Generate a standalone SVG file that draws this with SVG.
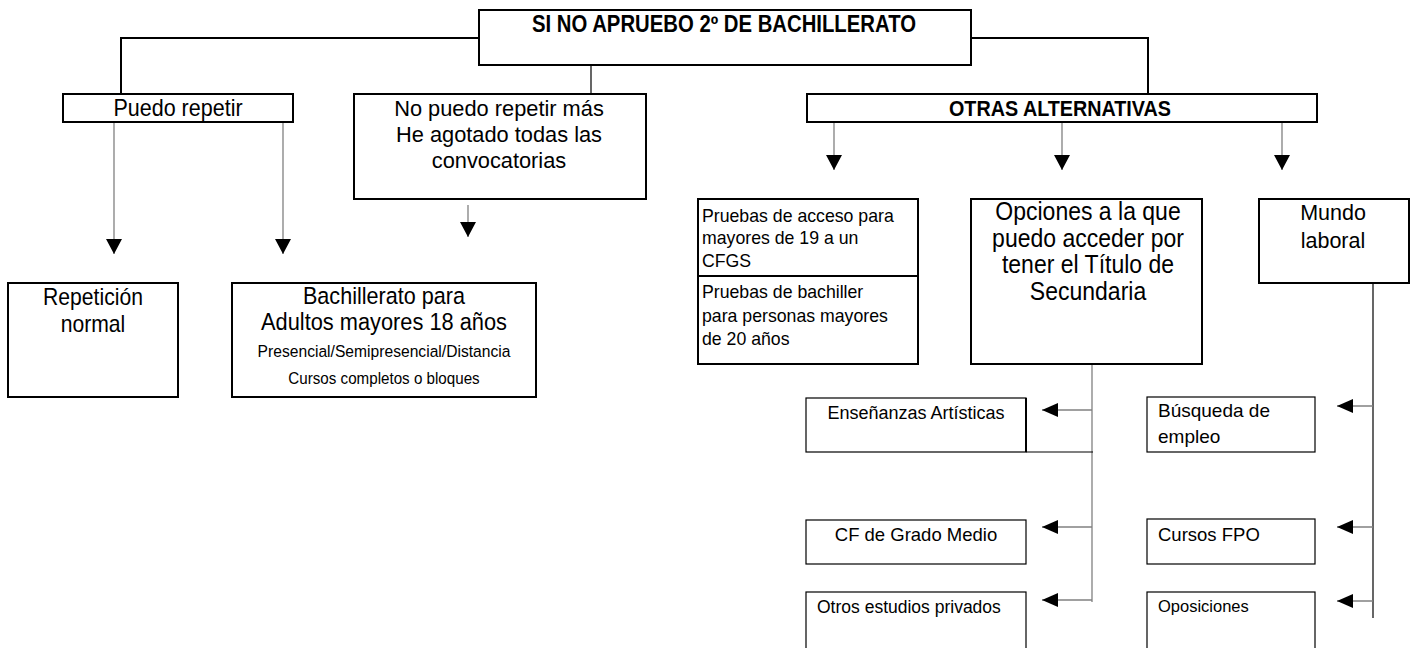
<svg xmlns="http://www.w3.org/2000/svg" width="1416" height="648" viewBox="0 0 1416 648">
<defs>
<style>
.box{fill:#fff;stroke:#000;stroke-width:2}
.thin{fill:#fff;stroke:#000;stroke-width:1.2}
.conn{fill:none;stroke:#000;stroke-width:2}
.blk{fill:none;stroke:#000;stroke-width:1.2}
.gray{fill:none;stroke:#808080;stroke-width:1.3}
text{font-family:"Liberation Sans",Arial,sans-serif;fill:#000}
.c{text-anchor:middle}
.h{font-weight:bold}
.sq{transform-box:fill-box;transform-origin:50% 50%;transform:scaleX(0.92)}
</style>
<marker id="ah" viewBox="0 0 15 16" refX="15" refY="8" markerWidth="15" markerHeight="16" markerUnits="userSpaceOnUse" orient="auto">
<path d="M0,0 L15,8 L0,16 Z" fill="#000"/>
</marker>
<marker id="ahs" viewBox="0 0 16 14" refX="16" refY="7" markerWidth="16" markerHeight="14" markerUnits="userSpaceOnUse" orient="auto">
<path d="M0,0 L16,7 L0,14 Z" fill="#000"/>
</marker>
</defs>
<rect width="1416" height="648" fill="#fff"/>
<g id="connectors">
<polyline class="conn" points="479,38 121,38 121,94"/>
<line class="blk" x1="591" y1="65" x2="591" y2="94"/>
<polyline class="conn" points="971,38 1148,38 1148,94"/>
<line class="gray" x1="114" y1="122" x2="114" y2="254" marker-end="url(#ah)"/>
<line class="gray" x1="283" y1="122" x2="283" y2="254" marker-end="url(#ah)"/>
<line class="gray" x1="468" y1="205" x2="468" y2="237" marker-end="url(#ah)"/>
<line class="gray" x1="834" y1="122" x2="834" y2="170" marker-end="url(#ah)"/>
<line class="gray" x1="1062" y1="122" x2="1062" y2="170" marker-end="url(#ah)"/>
<line class="gray" x1="1282" y1="122" x2="1282" y2="170" marker-end="url(#ah)"/>
<line class="gray" x1="1092" y1="352" x2="1092" y2="602"/>
<line class="gray" x1="1092" y1="410" x2="1042" y2="410" marker-end="url(#ahs)"/>
<line class="gray" x1="1092" y1="527" x2="1042" y2="527" marker-end="url(#ahs)"/>
<line class="gray" x1="1092" y1="600" x2="1042" y2="600" marker-end="url(#ahs)"/>
<line class="blk" x1="1373" y1="283" x2="1373" y2="618"/>
<line class="gray" x1="1373" y1="406" x2="1337" y2="406" marker-end="url(#ahs)"/>
<line class="gray" x1="1373" y1="527" x2="1337" y2="527" marker-end="url(#ahs)"/>
<line class="gray" x1="1373" y1="601" x2="1337" y2="601" marker-end="url(#ahs)"/>
</g>
<g id="n-title">
<rect class="box" x="479" y="10" width="492" height="55"/>
<text class="c h" x="724" y="32" font-size="23" textLength="384" lengthAdjust="spacingAndGlyphs">SI NO APRUEBO 2º DE BACHILLERATO</text>
</g>
<g id="n-puedo">
<rect class="box" x="63" y="94" width="230" height="28"/>
<text class="c sq" x="178" y="116" font-size="23.4">Puedo repetir</text>
</g>
<g id="n-nopuedo">
<rect class="box" x="354" y="94" width="292" height="105"/>
<text class="c" x="499" y="116" font-size="21.8">No puedo repetir más</text>
<text class="c" x="499" y="142" font-size="21.8">He agotado todas las</text>
<text class="c" x="499" y="168" font-size="21.8">convocatorias</text>
</g>
<g id="n-otras">
<rect class="box" x="807" y="94" width="510" height="28"/>
<text class="c h" x="1060" y="116" font-size="22" textLength="222" lengthAdjust="spacingAndGlyphs">OTRAS ALTERNATIVAS</text>
</g>
<g id="n-repeticion">
<rect class="box" x="8" y="283" width="170" height="114"/>
<text class="c sq" x="93" y="305" font-size="23">Repetición</text>
<text class="c sq" x="93" y="332" font-size="23">normal</text>
</g>
<g id="n-bach">
<rect class="box" x="232" y="283" width="304" height="114"/>
<text class="c sq" x="384" y="304" font-size="23.5">Bachillerato para</text>
<text class="c sq" x="384" y="330" font-size="23.7">Adultos mayores 18 años</text>
<text class="c sq" x="384" y="357" font-size="17">Presencial/Semipresencial/Distancia</text>
<text class="c sq" x="384" y="384" font-size="16.5">Cursos completos o bloques</text>
</g>
<g id="n-pruebas">
<rect class="box" x="698" y="199" width="220" height="165"/>
<line class="box" x1="698" y1="276" x2="918" y2="276"/>
<text x="702" y="222" font-size="17.7">Pruebas de acceso para</text>
<text x="702" y="244" font-size="17.7">mayores de 19 a un</text>
<text x="702" y="267" font-size="17.7">CFGS</text>
<text x="702" y="298" font-size="17.7">Pruebas de bachiller</text>
<text x="702" y="322" font-size="17.7">para personas mayores</text>
<text x="702" y="345" font-size="17.7">de 20 años</text>
</g>
<g id="n-opciones">
<rect class="box" x="971" y="199" width="231" height="165"/>
<text class="c sq" x="1088" y="220" font-size="25">Opciones a la que</text>
<text class="c sq" x="1088" y="247" font-size="25">puedo acceder por</text>
<text class="c sq" x="1088" y="273" font-size="25">tener el Título de</text>
<text class="c sq" x="1088" y="300" font-size="25">Secundaria</text>
</g>
<g id="n-mundo">
<rect class="box" x="1259" y="199" width="150" height="84"/>
<text class="c" x="1333" y="220" font-size="21.5">Mundo</text>
<text class="c" x="1333" y="248" font-size="21.5">laboral</text>
</g>
<g id="n-ensenanzas">
<rect class="thin" x="806" y="398" width="220" height="54"/>
<line x1="1026" y1="398" x2="1026" y2="452" stroke="#000" stroke-width="2"/>
<line class="blk" x1="1026" y1="452" x2="1093" y2="452"/>
<text class="c" x="916" y="419" font-size="18">Enseñanzas Artísticas</text>
</g>
<g id="n-cfgm">
<rect class="thin" x="806" y="520" width="220" height="44"/>
<text class="c" x="916" y="541" font-size="18.5">CF de Grado Medio</text>
</g>
<g id="n-otros">
<rect class="thin" x="806" y="592" width="220" height="70"/>
<text x="817" y="613" font-size="17.5">Otros estudios privados</text>
</g>
<g id="n-busqueda">
<rect class="thin" x="1147" y="397" width="168" height="55"/>
<text x="1158" y="417" font-size="19">Búsqueda de</text>
<text x="1158" y="443" font-size="19">empleo</text>
</g>
<g id="n-fpo">
<rect class="thin" x="1147" y="519" width="168" height="45"/>
<text x="1158" y="541" font-size="18.5">Cursos FPO</text>
</g>
<g id="n-oposiciones">
<rect class="thin" x="1147" y="592" width="168" height="70"/>
<text x="1158" y="612" font-size="16.5">Oposiciones</text>
</g>
</svg>
